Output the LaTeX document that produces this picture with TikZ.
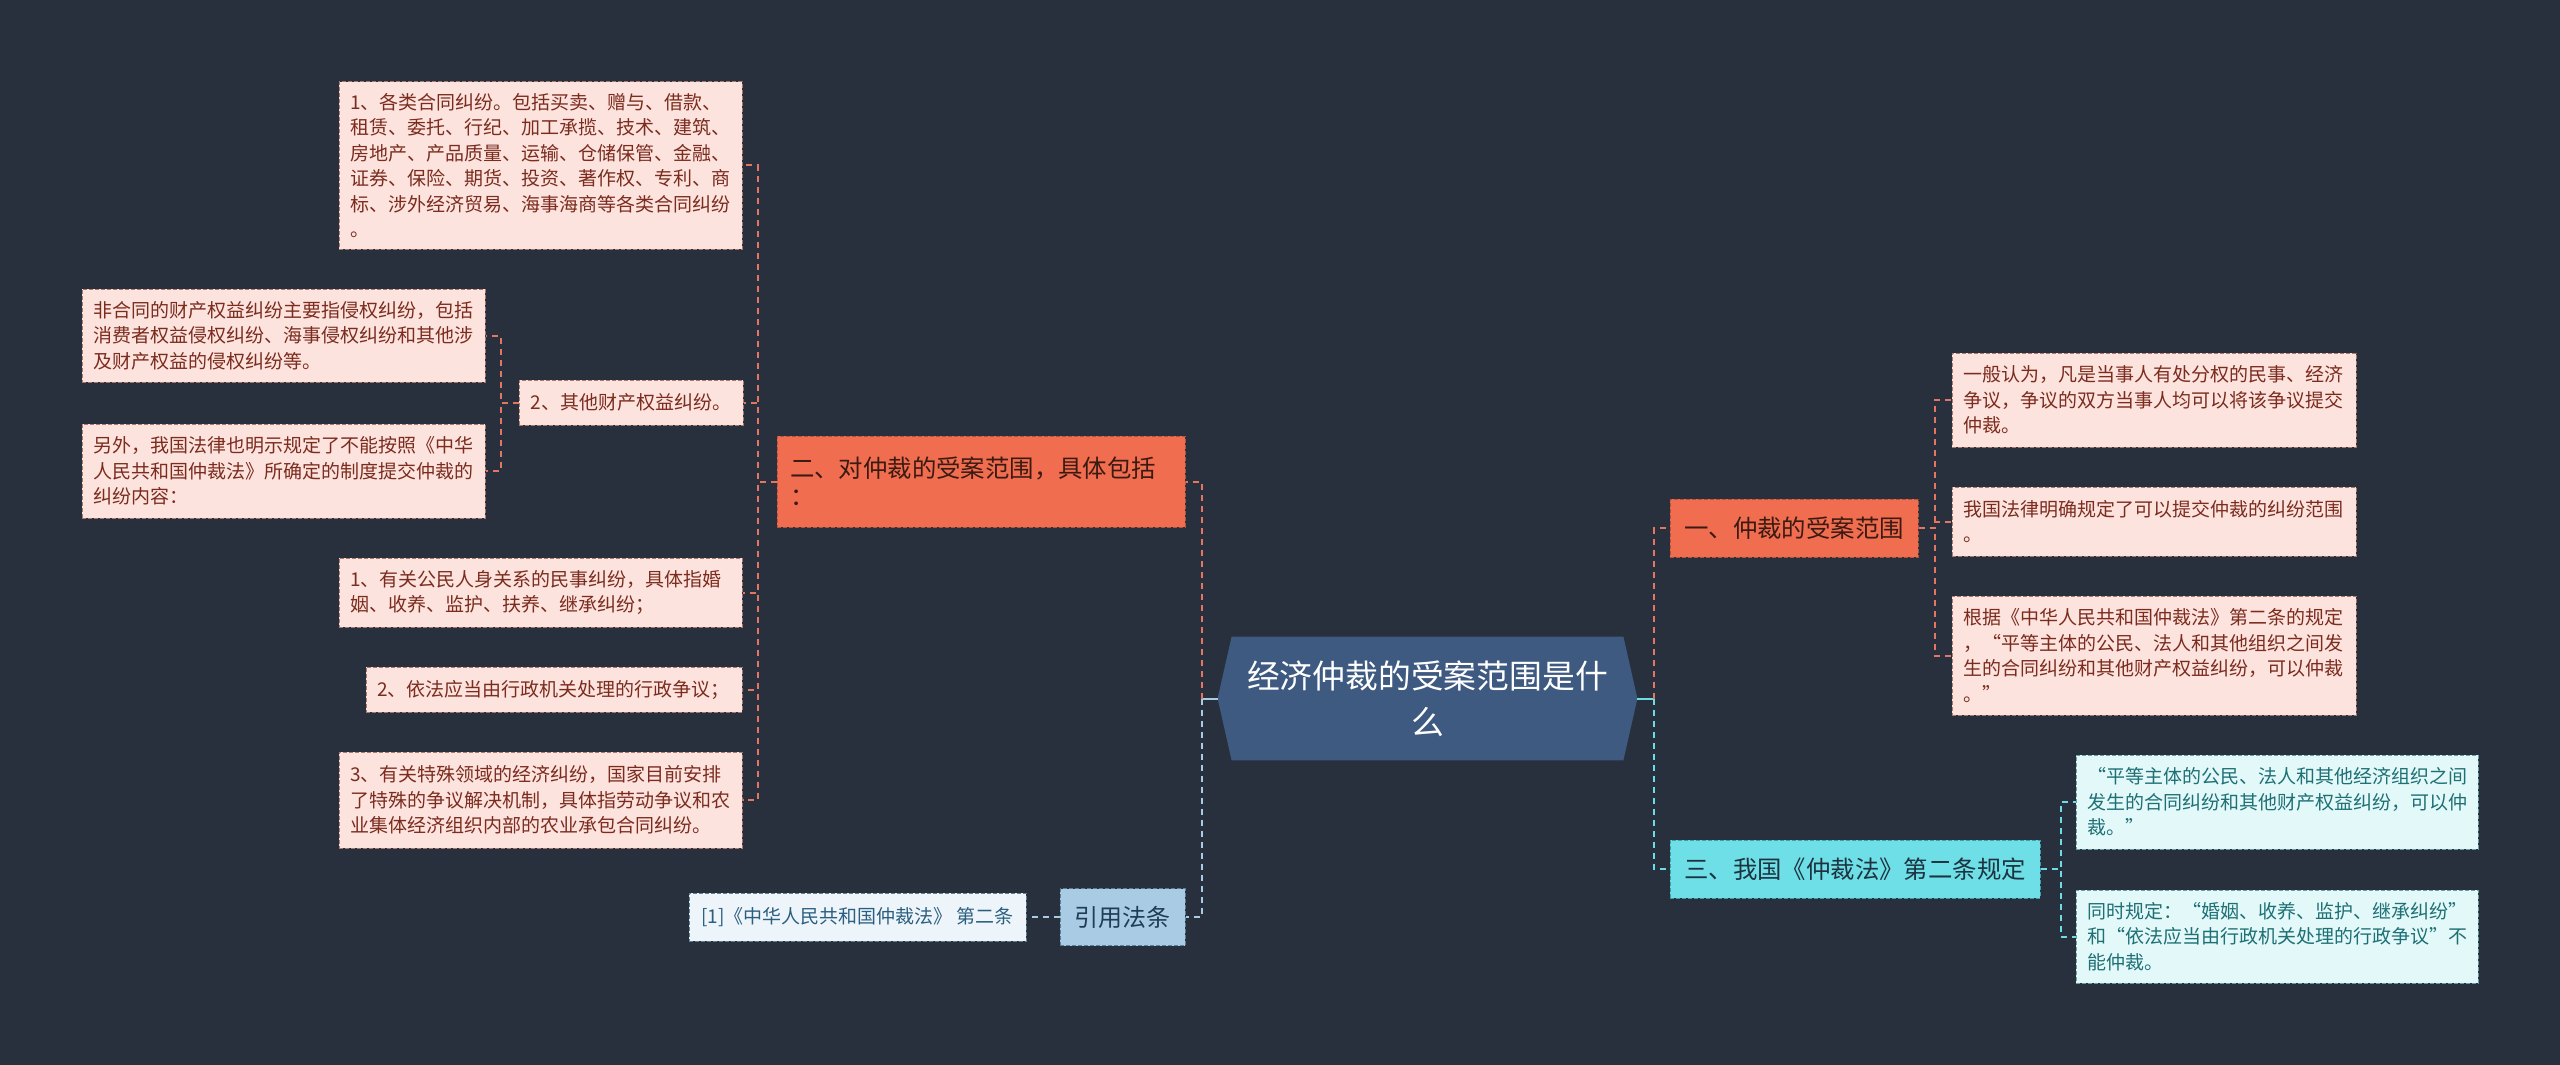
\documentclass[tikz,border=0pt]{standalone}
\usepackage{fontspec}
\setmainfont{Noto Sans CJK SC}
\definecolor{bgc}{HTML}{28303E}
\definecolor{rootc}{HTML}{3E5A80}
\definecolor{orangec}{HTML}{F06D4F}
\definecolor{orangeborder}{HTML}{B5533D}
\definecolor{orangetext}{HTML}{3A1A12}
\definecolor{pinkc}{HTML}{FDE3DD}
\definecolor{pinkborder}{HTML}{A9786E}
\definecolor{pinktext}{HTML}{7B2C1F}
\definecolor{orangeline}{HTML}{E47560}
\definecolor{cyanc}{HTML}{6EDFE6}
\definecolor{cyanborder}{HTML}{3E9FA6}
\definecolor{cyantext}{HTML}{1D3440}
\definecolor{cyanleaf}{HTML}{E3F8F9}
\definecolor{cyanleafborder}{HTML}{6A9FA3}
\definecolor{cyanleaftext}{HTML}{1E7075}
\definecolor{cyanline}{HTML}{6CDDE6}
\definecolor{bluec}{HTML}{A9CBE3}
\definecolor{blueborder}{HTML}{5F7F97}
\definecolor{bluetext}{HTML}{1F3D55}
\definecolor{blueleaf}{HTML}{EEF5FA}
\definecolor{blueleaftext}{HTML}{2B5F80}
\definecolor{blueline}{HTML}{A9CBE3}
\tikzset{
  boxbase/.style={rectangle, inner sep=0pt, line width=0.5pt, dash pattern=on 2pt off 1pt},
  pinkbox/.style={boxbase, fill=pinkc, draw=pinkborder, text=pinktext, align=left,
    font=\fontsize{9.5}{12.75}\selectfont},
  orangebox/.style={boxbase, fill=orangec, draw=orangeborder, text=orangetext,
    font=\fontsize{12.2}{14}\selectfont},
  cyanbox/.style={boxbase, fill=cyanc, draw=cyanborder, text=cyantext,
    font=\fontsize{12.2}{14}\selectfont},
  cyanleafbox/.style={boxbase, fill=cyanleaf, draw=cyanleafborder, text=cyanleaftext, align=left,
    font=\fontsize{9.5}{12.75}\selectfont},
  bluebox/.style={boxbase, fill=bluec, draw=blueborder, text=bluetext,
    font=\fontsize{12}{14}\selectfont},
  blueleafbox/.style={boxbase, fill=blueleaf, draw=blueborder, text=blueleaftext,
    font=\fontsize{9.5}{12}\selectfont},
  olink/.style={draw=orangeline, line width=1pt, dash pattern=on 3pt off 2.5pt},
  clink/.style={draw=cyanline, line width=1pt, dash pattern=on 3pt off 2.5pt},
  blink/.style={draw=blueline, line width=1pt, dash pattern=on 3pt off 2.5pt},
  rootlink/.style={draw=#1, line width=1pt},
}
\begin{document}
\begin{tikzpicture}[x=0.5pt,y=-0.5pt]
\useasboundingbox (0,0) rectangle (2560,1065);
\fill[bgc] (0,0) rectangle (2560,1065);

% root
\node[rectangle, inner sep=0pt, minimum width=209.5pt, minimum height=61.5pt] (root) at (1427.5,698.5) {};
\fill[rootc] (root.west) -- ([xshift=7pt]root.north west) -- ([xshift=-7pt]root.north east)
  -- (root.east) -- ([xshift=-7pt]root.south east) -- ([xshift=7pt]root.south west) -- cycle;
\node[text=white, align=center, font=\fontsize{16.4}{23}\selectfont] (roottext) at (root.center)
  {经济仲裁的受案范围是什\\么};

% left branch
\node[orangebox, minimum width=204pt, minimum height=45.5pt, text width=191pt, align=left] (e) at (981,481.5)
  {二、对仲裁的受案范围，具体包括\\：};
\node[pinkbox, minimum width=201.5pt, minimum height=83.5pt, text width=190.5pt] (a1) at (540.5,165.5)
  {1、各类合同纠纷。包括买卖、赠与、借款、\\租赁、委托、行纪、加工承揽、技术、建筑、\\房地产、产品质量、运输、仓储保管、金融、\\证券、保险、期货、投资、著作权、专利、商\\标、涉外经济贸易、海事海商等各类合同纠纷\\。};
\node[pinkbox, minimum width=112pt, minimum height=22.5pt, align=center] (d) at (631,402.5)
  {2、其他财产权益纠纷。};
\node[pinkbox, minimum width=201.5pt, minimum height=46.5pt, text width=190.5pt] (b) at (283.5,335.5)
  {非合同的财产权益纠纷主要指侵权纠纷，包括\\消费者权益侵权纠纷、海事侵权纠纷和其他涉\\及财产权益的侵权纠纷等。};
\node[pinkbox, minimum width=201.5pt, minimum height=47pt, text width=190.5pt] (c) at (283.5,471)
  {另外，我国法律也明示规定了不能按照《中华\\人民共和国仲裁法》所确定的制度提交仲裁的\\纠纷内容：};
\node[pinkbox, minimum width=201.5pt, minimum height=34.5pt, text width=190.5pt] (f) at (540.5,592.5)
  {1、有关公民人身关系的民事纠纷，具体指婚\\姻、收养、监护、扶养、继承纠纷；};
\node[pinkbox, minimum width=188pt, minimum height=22.5pt, text width=177pt] (g) at (554,689.5)
  {2、依法应当由行政机关处理的行政争议；};
\node[pinkbox, minimum width=201.5pt, minimum height=48pt, text width=190.5pt] (h) at (540.5,800)
  {3、有关特殊领域的经济纠纷，国家目前安排\\了特殊的争议解决机制，具体指劳动争议和农\\业集体经济组织内部的农业承包合同纠纷。};
\node[bluebox, minimum width=62.5pt, minimum height=28.5pt] (i) at (1122.5,917)
  {引用法条};
\node[blueleafbox, minimum width=168.5pt, minimum height=24pt] (j) at (857.5,917)
  {[1]《中华人民共和国仲裁法》 第二条};

% right branch
\node[orangebox, minimum width=124pt, minimum height=29pt] (k) at (1794,528)
  {一、仲裁的受案范围};
\node[pinkbox, minimum width=202pt, minimum height=47pt, text width=191pt] (l) at (2154,400)
  {一般认为，凡是当事人有处分权的民事、经济\\争议，争议的双方当事人均可以将该争议提交\\仲裁。};
\node[pinkbox, minimum width=202pt, minimum height=34.5pt, text width=191pt] (m) at (2154,521.5)
  {我国法律明确规定了可以提交仲裁的纠纷范围\\。};
\node[pinkbox, minimum width=202pt, minimum height=59.5pt, text width=191pt] (n) at (2154,655.5)
  {根据《中华人民共和国仲裁法》第二条的规定\\，“平等主体的公民、法人和其他组织之间发\\生的合同纠纷和其他财产权益纠纷，可以仲裁\\。”};
\node[cyanbox, minimum width=185pt, minimum height=29pt] (o) at (1855,869)
  {三、我国《仲裁法》第二条规定};
\node[cyanleafbox, minimum width=201pt, minimum height=47pt, text width=190pt] (p) at (2277,802)
  {“平等主体的公民、法人和其他经济组织之间\\发生的合同纠纷和其他财产权益纠纷，可以仲\\裁。”};
\node[cyanleafbox, minimum width=201pt, minimum height=46.5pt, text width=190pt] (q) at (2277,936.5)
  {同时规定：“婚姻、收养、监护、继承纠纷”\\和“依法应当由行政机关处理的行政争议”不\\能仲裁。};

% connectors
\coordinate (busl) at ([xshift=-8pt]root.west);
\coordinate (busr) at ([xshift=8.5pt]root.east);
\draw[rootlink=blueline] (root.west) -- (busl);
\draw[rootlink=cyanline] (root.east) -- (busr);
\draw[olink] (busl) |- (e.east);
\draw[blink] (busl) |- (i.east);
\draw[blink] (i.west) -- (j.east);
\draw[olink] (busr) |- (k.west);
\draw[clink] (busr) |- (o.west);

\foreach \t in {a1,d,f,g,h} \draw[olink] (e.west) -- ++(-19,0) |- (\t.east);
\foreach \t in {b,c} \draw[olink] (d.west) -- ++(-18,0) |- (\t.east);
\foreach \t in {l,m,n} \draw[olink] (k.east) -- ++(16,0) |- (\t.west);
\foreach \t in {p,q} \draw[clink] (o.east) -- ++(20,0) |- (\t.west);
\end{tikzpicture}
\end{document}
